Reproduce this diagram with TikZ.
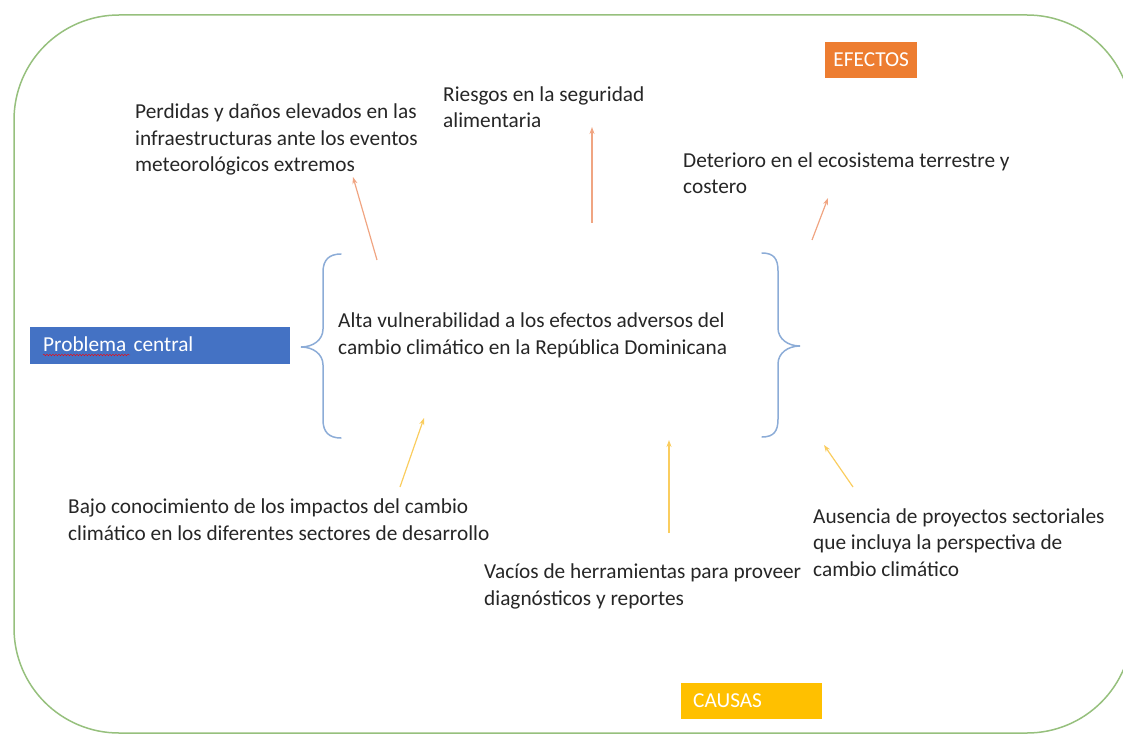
\documentclass[tikz,border=0pt]{standalone}
\usepackage{fontspec}
\setmainfont{Carlito}
\usetikzlibrary{positioning,arrows.meta,decorations.pathmorphing}

\definecolor{marco}{RGB}{150,192,125}
\definecolor{efnaranja}{RGB}{237,125,49}
\definecolor{cauamarillo}{RGB}{255,192,0}
\definecolor{probazul}{RGB}{68,114,196}
\definecolor{llave}{RGB}{140,172,215}
\definecolor{flechaef}{RGB}{240,165,130}
\definecolor{flechaca}{RGB}{250,205,95}
\definecolor{texto}{RGB}{38,38,38}

\newcommand{\diagfont}{\fontsize{21.3}{26.5}\selectfont}

\tikzset{
  lbl/.style={anchor=base west,align=left,inner sep=0pt,text=texto,font=\diagfont},
  tag/.style={inner sep=0pt,text=white,font=\diagfont,minimum height=36pt,text height=14pt,text depth=2pt},
  efarrow/.style={-{Stealth[length=7pt,width=5pt]},draw=flechaef,line width=1.2pt},
  caarrow/.style={-{Stealth[length=7pt,width=5pt]},draw=flechaca,line width=1.2pt},
  brace/.style={draw=llave,line width=1.5pt,line cap=round}
}

\begin{document}
\begin{tikzpicture}[x=1pt,y=-1pt]
\useasboundingbox (0,0) rectangle (1123,735);
\draw[marco,line width=1.5pt,rounded corners=105pt] (14,15) rectangle (1132,733);

\node[tag,fill=efnaranja,minimum width=92pt,anchor=north west](efectos) at (825,42){EFECTOS};
\node[tag,fill=cauamarillo,minimum width=141pt,text width=117pt,inner xsep=12pt,align=left,anchor=north west](causas) at (681,683){CAUSAS};
\node[tag,fill=probazul,minimum height=37pt,text width=234pt,inner xsep=13pt,align=left,anchor=north west](central) at (30,327){Problema central};
\draw[red,decorate,decoration={snake,amplitude=0.8pt,segment length=3pt}] (43,355) -- (130,355);

% efectos
\node[lbl](ef1) at (135,172){Perdidas y daños elevados en las\\infraestructuras ante los eventos\\meteorológicos extremos};
\node[lbl](ef2) at (443,128){Riesgos en la seguridad\\alimentaria};
\node[lbl](ef3) at (683,194){Deterioro en el ecosistema terrestre y\\costero};

% problema
\node[lbl](prob) at (338,354){Alta vulnerabilidad a los efectos adversos del\\cambio climático en la República Dominicana};

% causas
\node[lbl](ca1) at (68,540){Bajo conocimiento de los impactos del cambio\\climático en los diferentes sectores de desarrollo};
\node[lbl](ca2) at (484,605){Vacíos de herramientas para proveer\\diagnósticos y reportes};
\node[lbl](ca3) at (813,576){Ausencia de proyectos sectoriales\\que incluya la perspectiva de\\cambio climático};

% llaves
\draw[brace] (341,254) .. controls (329,254) and (323,260) .. (323,272) -- (323,329)
  .. controls (323,340) and (313,347) .. (301,347) .. controls (313,347) and (323,354) .. (323,365)
  -- (323,420) .. controls (323,432) and (329,438) .. (341,438);
\draw[brace] (762,253) .. controls (774,253) and (778,259) .. (778,271) -- (778,328)
  .. controls (778,339) and (788,346) .. (800,346) .. controls (788,346) and (778,353) .. (778,364)
  -- (778,419) .. controls (778,431) and (774,437) .. (762,437);

% flechas
\coordinate (ef1a) at (377,260); \coordinate (ef1b) at (353,177);
\coordinate (ef2a) at (592,223); \coordinate (ef2b) at (592,127);
\coordinate (ef3a) at (812,240); \coordinate (ef3b) at (828,198);
\coordinate (ca1a) at (400,487); \coordinate (ca1b) at (424,418);
\coordinate (ca2a) at (669,533); \coordinate (ca2b) at (669,440);
\coordinate (ca3a) at (853,487); \coordinate (ca3b) at (824,445);
\path (ef1a) edge[efarrow] (ef1b)
      (ef2a) edge[efarrow] (ef2b)
      (ef3a) edge[efarrow] (ef3b);
\path (ca1a) edge[caarrow] (ca1b)
      (ca2a) edge[caarrow] (ca2b)
      (ca3a) edge[caarrow] (ca3b);
\end{tikzpicture}
\end{document}
